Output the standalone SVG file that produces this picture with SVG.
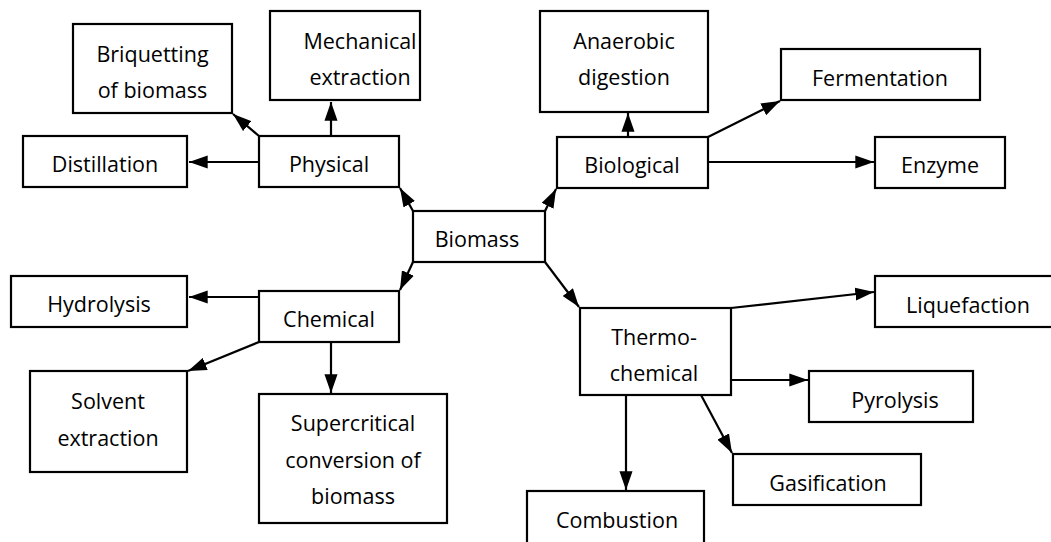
<svg xmlns="http://www.w3.org/2000/svg" width="1051" height="542" viewBox="0 0 1051 542">
<defs>
<style>
.box{fill:#fff;stroke:#000;stroke-width:2.2}
.t{font-family:"Open Sans","Liberation Sans",sans-serif;font-size:21.5px;fill:#000;text-anchor:middle}
.c line{stroke:#000;stroke-width:2.2;marker-end:url(#ah)}
</style>
<marker id="ah" viewBox="0 0 10 7" refX="10" refY="3.5" markerWidth="8.5" markerHeight="6" markerUnits="strokeWidth" orient="auto">
<path d="M0,0 L10,3.5 L0,7 z" fill="#000"/>
</marker>
</defs>
<rect width="1051" height="542" fill="#fff"/>
<g class="c" id="connectors">
<line x1="413" y1="211" x2="400" y2="188"/>
<line x1="545" y1="211" x2="556" y2="189"/>
<line x1="413" y1="262" x2="400" y2="290"/>
<line x1="545" y1="262" x2="579" y2="307"/>
<line x1="259" y1="162" x2="189" y2="162"/>
<line x1="259" y1="136" x2="233" y2="114"/>
<line x1="331" y1="136" x2="331" y2="102"/>
<line x1="628" y1="137" x2="628" y2="113"/>
<line x1="708" y1="137" x2="780" y2="101"/>
<line x1="708" y1="162" x2="874" y2="162"/>
<line x1="259" y1="297" x2="189" y2="297"/>
<line x1="259" y1="342" x2="188" y2="371"/>
<line x1="331" y1="342" x2="331" y2="393"/>
<line x1="731" y1="308" x2="874" y2="292"/>
<line x1="731" y1="380" x2="808" y2="380"/>
<line x1="701" y1="395" x2="732" y2="453"/>
<line x1="626" y1="395" x2="626" y2="490"/>
</g>
<g id="briquetting"><rect class="box" x="73" y="24" width="159" height="89"/><text class="t" x="152.5" y="62">Briquetting</text><text class="t" x="152.5" y="98">of biomass</text></g>
<g id="mechanical"><rect class="box" x="270" y="11" width="150" height="89"/><text class="t" x="360" y="49">Mechanical</text><text class="t" x="360" y="85">extraction</text></g>
<g id="distillation"><rect class="box" x="23" y="136" width="164" height="51"/><text class="t" x="105" y="172">Distillation</text></g>
<g id="physical"><rect class="box" x="259" y="136" width="140" height="51"/><text class="t" x="329" y="172">Physical</text></g>
<g id="anaerobic"><rect class="box" x="540" y="11" width="168" height="101"/><text class="t" x="624" y="49">Anaerobic</text><text class="t" x="624" y="85">digestion</text></g>
<g id="fermentation"><rect class="box" x="781" y="49" width="199" height="51"/><text class="t" x="880" y="86">Fermentation</text></g>
<g id="biological"><rect class="box" x="557" y="137" width="151" height="51"/><text class="t" x="632" y="173">Biological</text></g>
<g id="enzyme"><rect class="box" x="875" y="137" width="130" height="51"/><text class="t" x="940" y="173">Enzyme</text></g>
<g id="biomass"><rect class="box" x="413" y="211" width="132" height="51"/><text class="t" x="477" y="247">Biomass</text></g>
<g id="hydrolysis"><rect class="box" x="11" y="276" width="176" height="51"/><text class="t" x="99" y="312">Hydrolysis</text></g>
<g id="chemical"><rect class="box" x="259" y="291" width="140" height="51"/><text class="t" x="329" y="327">Chemical</text></g>
<g id="solvent"><rect class="box" x="30" y="371" width="157" height="101"/><text class="t" x="108" y="409">Solvent</text><text class="t" x="108" y="446">extraction</text></g>
<g id="supercritical"><rect class="box" x="259" y="394" width="188" height="129"/><text class="t" x="353" y="431">Supercritical</text><text class="t" x="353" y="468">conversion of</text><text class="t" x="353" y="504">biomass</text></g>
<g id="thermochemical"><rect class="box" x="580" y="308" width="151" height="87"/><text class="t" x="654" y="345">Thermo-</text><text class="t" x="654" y="381">chemical</text></g>
<g id="liquefaction"><rect class="box" x="875" y="276" width="180" height="51"/><text class="t" x="968" y="313">Liquefaction</text></g>
<g id="pyrolysis"><rect class="box" x="809" y="371" width="164" height="51"/><text class="t" x="895" y="408">Pyrolysis</text></g>
<g id="gasification"><rect class="box" x="733" y="454" width="188" height="51"/><text class="t" x="828" y="491">Gasification</text></g>
<g id="combustion"><rect class="box" x="527" y="491" width="177" height="60"/><text class="t" x="617" y="528">Combustion</text></g>
</svg>
